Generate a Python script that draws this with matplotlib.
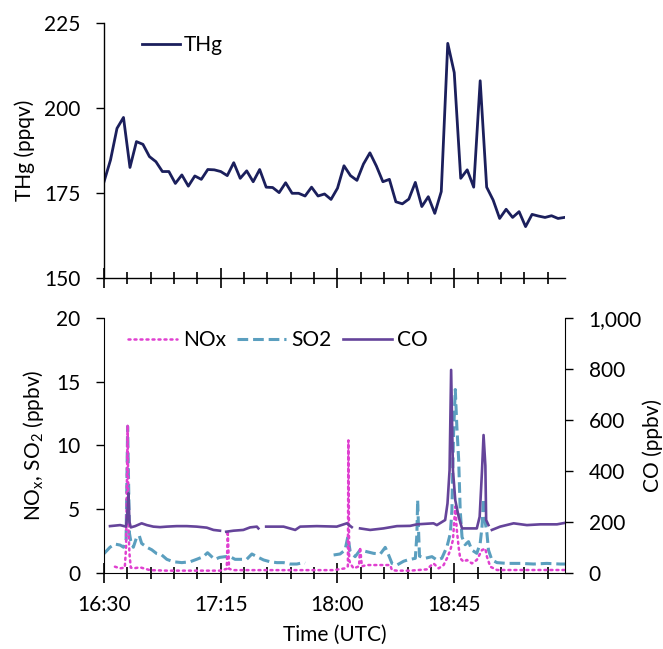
import numpy as np
import matplotlib
matplotlib.use("Agg")
import matplotlib.pyplot as plt
from matplotlib.ticker import FuncFormatter

plt.rcParams['font.family'] = ['Lato', 'DejaVu Sans']
plt.rcParams['mathtext.fontset'] = 'custom'
plt.rcParams['mathtext.rm'] = 'Lato'

# ---- data (minutes after 16:30 UTC) ----
thg_time = np.arange(0, 180, 2.5)
thg = [178.4, 184.8, 194.1, 197.3, 182.6, 190.2, 189.4, 185.8, 184.3, 181.4, 181.4, 177.9,
       180.4, 177.1, 180.1, 179.1, 182.0, 181.9, 181.4, 180.2, 184.0, 179.4, 181.6, 178.4,
       182.0, 176.8, 176.7, 175.2, 178.1, 175.0, 175.0, 174.2, 176.8, 174.2, 174.8, 173.2,
       176.5, 183.1, 180.2, 178.8, 183.6, 186.9, 183.0, 178.4, 179.1, 172.5, 171.9, 173.3,
       178.2, 171.1, 174.0, 169.1, 175.5, 219.1, 210.5, 179.4, 181.9, 176.8, 208.1, 176.8,
       173.0, 167.6, 170.3, 167.9, 169.6, 165.2, 168.8, 168.3, 167.9, 168.4, 167.6, 167.9]

co_time = [2.3, 6.2, 8.5, 9.1, 9.4, 9.8, 10.3, 12.0, 14.5, 16.5, 19.0, 21.6, 24.2, 28.0, 31.9,
           35.7, 39.6, 42.2, 44.7, 45.8, 47.1, 49.9, 53.7, 56.3, 58.9, 59.5, 61.0, 62.5, 69.2,
           73.7, 75.6, 82.0, 89.7, 93.6, 95.5, 96.6, 98.7, 102.6, 107.7, 112.9, 118.0, 120.6,
           127.0, 128.3, 131.5, 132.4, 133.2, 133.8, 134.5, 135.4, 136.7, 138.0, 143.7, 144.8,
           145.7, 146.3, 147.0, 147.3, 148.2, 148.8, 149.5, 152.7, 157.9, 163.0, 168.2, 174.6,
           177.8]
co = [183, 187, 181, 250, 312, 200, 178, 183, 194, 187, 181, 179, 181, 183, 183,
      181, 177, 168, 165, np.nan, 161, 165, 168, 178, 181, 174, np.nan, 181, 181,
      168, 181, 183, 181, 194, 179, np.nan, 174, 168, 174, 183, 184, 190,
      194, 187, 207, 272, 403, 797, 403, 285, 220, 174, 174, 220,
      400, 541, 420, 207, 187, np.nan, 168, 181, 194, 187, 190, 190,
      196]

so2_time = [0.0, 2.3, 4.2, 6.2, 7.5, 8.5, 9.1, 9.8, 10.3, 11.3, 12.6, 13.6, 14.5, 16.5, 18.4,
            20.3, 22.2, 24.2, 26.7, 30.0, 33.2, 35.7, 38.3, 39.9, 41.5, 42.8, 44.5, 46.7, 48.6,
            50.5, 52.5, 55.0, 57.0, 58.9, 61.5, 64.0, 66.6, 69.2, 71.7, 74.3, 76.9, 77.5, 80.0,
            88.5, 91.0, 92.9, 94.0, 94.9, 96.8, 98.7, 101.3, 103.9, 106.5, 108.4, 109.7, 111.0,
            112.9, 115.5, 117.0, 120.0, 120.6, 120.9, 121.3, 121.6, 123.8, 126.4, 128.3, 130.2,
            132.2, 133.5, 134.1, 134.7, 135.4, 136.0, 136.7, 137.3, 138.0, 139.2, 140.5, 141.8,
            143.7, 145.0, 145.7, 146.3, 147.0, 147.6, 148.2, 149.5, 151.5, 155.3, 160.5, 165.6,
            170.7, 175.9, 177.8]
so2 = [1.5, 2.0, 2.25, 2.17, 2.0, 2.6, 11.5, 3.1, 2.5, 2.0, 2.8, 2.9, 2.3, 2.0, 1.8,
       1.5, 1.4, 1.05, 0.86, 0.79, 0.86, 1.05, 1.26, 1.57, 1.26, 1.05, 1.2, 1.26, 1.26,
       1.05, 1.05, 1.05, 1.47, 1.26, 1.0, 0.86, 0.79, 0.79, 0.68, 0.68, 0.79, 0.75, np.nan,
       1.39, 1.47, 1.78, 2.83, 1.65, 1.26, 1.78, 1.65, 1.52, 1.47, 1.99, 1.39, 0.73,
       0.6, 0.9, 1.0, 1.13, 3.0, 5.7, 3.0, 1.3, 1.13, 1.26, 1.0, 1.13,
       2.04, 3.09, 4.9, 10.7, 14.4, 11.5, 8.9, 4.9, 2.8, 2.2, 2.44, 1.78,
       1.52, 2.3, 3.6, 5.8, 3.9, 3.1, 1.78, 1.0, 0.79, 0.73, 0.73, 0.68,
       0.73, 0.68, 0.68]

nox_time = [4.2, 6.2, 8.0, 8.5, 9.1, 9.5, 9.8, 10.3, 11.3, 13.9, 17.7, 24.2, 35.7, 44.7, 47.3,
            47.7, 48.2, 49.9, 60.2, 75.6, 88.5, 92.9, 94.0, 94.2, 94.5, 94.9, 96.2, 98.3, 98.7,
            99.4, 101.3, 106.5, 110.3, 111.0, 112.9, 118.0, 124.5, 125.7, 127.0, 129.0, 130.9,
            132.2, 133.5, 134.5, 135.4, 136.0, 136.7, 137.3, 138.6, 139.9, 141.8, 143.7, 145.7,
            147.0, 147.6, 148.9, 151.5, 177.8]
nox = [0.47, 0.34, 0.4, 2.0, 11.6, 3.0, 1.5, 0.4, 0.34, 0.42, 0.2, 0.16, 0.16, 0.16, 0.3,
       3.3, 0.3, 0.2, 0.2, 0.2, 0.2, 0.34, 0.5, 10.4, 1.0, 0.73, 0.34, 0.5, 2.0,
       0.5, 0.6, 0.6, 0.6, 0.2, 0.16, 0.16, 0.26, 0.5, 0.73, 0.34, 0.6,
       1.13, 1.78, 2.57, 5.2, 3.35, 2.0, 1.13, 0.86, 1.0, 0.73, 1.0, 1.78,
       1.9, 1.26, 0.47, 0.21, 0.21]

major_ticks = [0, 45, 90, 135]
tick_labels = ["16:30", "17:15", "18:00", "18:45"]
minor_ticks = np.arange(0, 178, 9)

# ---- colours ----
c_thg = '#1b1f5c'
c_co = '#65449a'
c_so2 = '#5b9fbf'
c_nox = '#e040d0'

FS = 15
fig = plt.figure(figsize=(6.63, 6.49), dpi=100)
ax1 = fig.add_axes([0.1569, 0.5712, 0.6953, 0.3929])
ax2 = fig.add_axes([0.1569, 0.1176, 0.6953, 0.3920])

XMAX = 177.7

def style_x(ax, labels):
    ax.set_xlim(0, XMAX)
    ax.set_xticks(major_ticks)
    ax.set_xticks(minor_ticks, minor=True)
    if labels:
        ax.set_xticklabels(tick_labels)
    else:
        ax.set_xticklabels([])
    ax.tick_params(axis='x', which='major', direction='inout', length=14, width=1.2, pad=9, labelsize=FS)
    ax.tick_params(axis='x', which='minor', direction='inout', length=9, width=1.2)

# top panel
ax1.plot(thg_time, thg, color=c_thg, lw=2.0, label='THg')
ax1.set_ylim(150, 225)
ax1.set_yticks([150, 175, 200, 225])
style_x(ax1, False)
ax1.tick_params(axis='y', direction='out', length=6, width=1.0, pad=11, labelsize=FS)
for s in ['top', 'right']:
    ax1.spines[s].set_visible(False)
for s in ['left', 'bottom']:
    ax1.spines[s].set_linewidth(1.0)
ax1.set_ylabel('THg (ppqv)', fontsize=FS)
ax1.yaxis.set_label_coords(-0.150, 0.5)
ax1.legend(loc='upper left', bbox_to_anchor=(0.065, 0.985), frameon=False, fontsize=FS,
           handlelength=1.8, handletextpad=0.2, borderaxespad=0)

# bottom panel
l_so2, = ax2.plot(so2_time, so2, color=c_so2, lw=2.2, linestyle=(0, (3.5, 1.6)), label='SO2')
l_nox, = ax2.plot(nox_time, nox, color=c_nox, lw=1.8, linestyle=(0, (0.8, 1.6)),
                  dash_capstyle='round', label='NOx')
ax2.set_ylim(0, 20)
ax2.set_yticks([0, 5, 10, 15, 20])
style_x(ax2, True)
ax2.tick_params(axis='y', direction='out', length=6, width=1.0, pad=11, labelsize=FS)
ax2.spines['top'].set_visible(False)
ax2.spines['right'].set_visible(False)
ax2.set_ylabel(r'NO$_\mathregular{x}$, SO$_\mathregular{2}$ (ppbv)', fontsize=FS)
ax2.yaxis.set_label_coords(-0.125, 0.5)
ax2.set_xlabel('Time (UTC)', fontsize=FS)
ax2.xaxis.set_label_coords(0.5, -0.205)

ax3 = ax2.twinx()
l_co, = ax3.plot(co_time, co, color=c_co, lw=1.9, label='CO')
ax3.set_ylim(0, 1000)
ax3.set_yticks([0, 200, 400, 600, 800, 1000])
ax3.yaxis.set_major_formatter(FuncFormatter(lambda v, p: f'{int(v):,}'))
ax3.tick_params(axis='y', direction='out', length=6, width=1.0, pad=11, labelsize=FS)
ax3.spines['top'].set_visible(False)
ax3.spines['left'].set_visible(False)
ax3.spines['bottom'].set_visible(False)
ax3.set_ylabel('CO (ppbv)', fontsize=FS)
ax3.yaxis.set_label_coords(1.168, 0.5)

ax3.legend([l_nox, l_so2, l_co], ['NOx', 'SO2', 'CO'], loc='upper left',
           bbox_to_anchor=(0.035, 0.985), ncol=3, frameon=False, fontsize=FS,
           handlelength=2.35, handletextpad=0.25, columnspacing=0.55, borderaxespad=0)

fig.savefig('out.png', dpi=100)
